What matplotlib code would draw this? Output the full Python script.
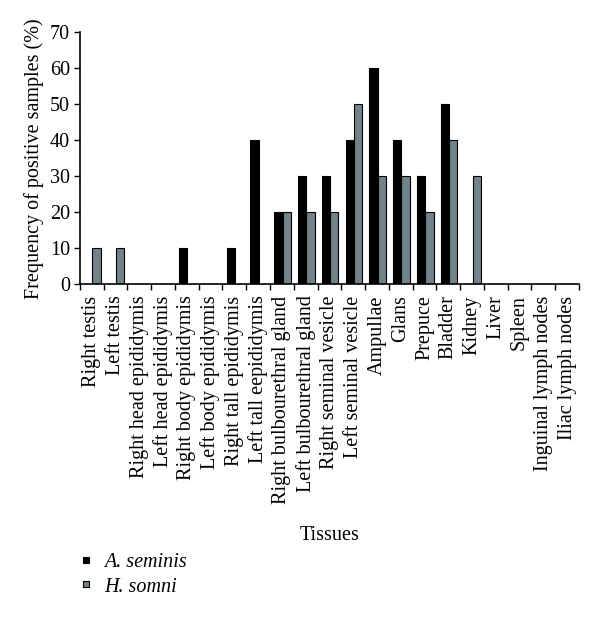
import matplotlib
matplotlib.use("Agg")
import matplotlib.pyplot as plt
import numpy as np
from matplotlib.lines import Line2D

plt.rcParams['font.family'] = ['Liberation Serif', 'DejaVu Serif']

tissues = ["Right testis", "Left testis", "Right head epididymis", "Left head epididymis",
           "Right body epididymis", "Left body epididymis", "Right tall epididymis",
           "Left tall eepididymis", "Right bulbourethral gland", "Left bulbourethral gland",
           "Right seminal vesicle", "Left seminal vesicle", "Ampullae", "Glans", "Prepuce",
           "Bladder", "Kidney", "Liver", "Spleen", "Inguinal lymph nodes", "Iliac lymph nodes"]
a_seminis = [0, 0, 0, 0, 10, 0, 10, 40, 20, 30, 30, 40, 60, 40, 30, 50, 0, 0, 0, 0, 0]
h_somni = [10, 10, 0, 0, 0, 0, 0, 0, 20, 20, 20, 50, 30, 30, 20, 40, 30, 0, 0, 0, 0]
yticks = [0, 10, 20, 30, 40, 50, 60, 70]

black = "#000000"
gray = "#728389"

fig = plt.figure(figsize=(6.0, 6.18), dpi=100)
ax = fig.add_axes([0.133, 0.540, 0.832, 0.408])

x = np.arange(len(tissues))
w = 0.35
ax.bar(x - w / 2 + 0.03, a_seminis, w, color=black, edgecolor=black, linewidth=0.8)
ax.bar(x + w / 2 + 0.03, h_somni, w, color=gray, edgecolor=black, linewidth=0.8)

ax.set_xlim(-0.5, len(tissues) - 0.5)
ax.set_ylim(0, 70)
ax.set_yticks(yticks)
ax.tick_params(axis='y', labelsize=14.5, direction='out', length=4, width=1, pad=3)
ax.set_xticks(x)
ax.set_xticklabels(tissues, rotation=90, fontsize=14.5)
ax.tick_params(axis='x', which='major', length=0, pad=8)
ax.set_xticks(np.arange(len(tissues) + 1) - 0.5, minor=True)
ax.tick_params(axis='x', which='minor', length=4, width=1, direction='out')
for s in ['top', 'right']:
    ax.spines[s].set_visible(False)
for s in ['left', 'bottom']:
    ax.spines[s].set_linewidth(1.2)

ax.set_ylabel("Frequency of positive samples (%)", fontsize=14.5, labelpad=4)
fig.text(0.55, 0.133, "Tissues", ha='center', va='center', fontsize=14.5)

handles = [Line2D([], [], marker='s', linestyle='none', markersize=5,
                  markerfacecolor=black, markeredgecolor=black, markeredgewidth=0.8),
           Line2D([], [], marker='s', linestyle='none', markersize=5,
                  markerfacecolor=gray, markeredgecolor=black, markeredgewidth=0.8)]
leg = fig.legend(handles, ["A. seminis", "H. somni"], loc='upper left',
                 bbox_to_anchor=(0.10, 0.134), frameon=False, handlelength=0.8,
                 handletextpad=0.5, labelspacing=0.25,
                 prop={'family': ['Liberation Serif'], 'style': 'italic', 'size': 14.5})

fig.savefig("out.png", dpi=100, facecolor='white')
